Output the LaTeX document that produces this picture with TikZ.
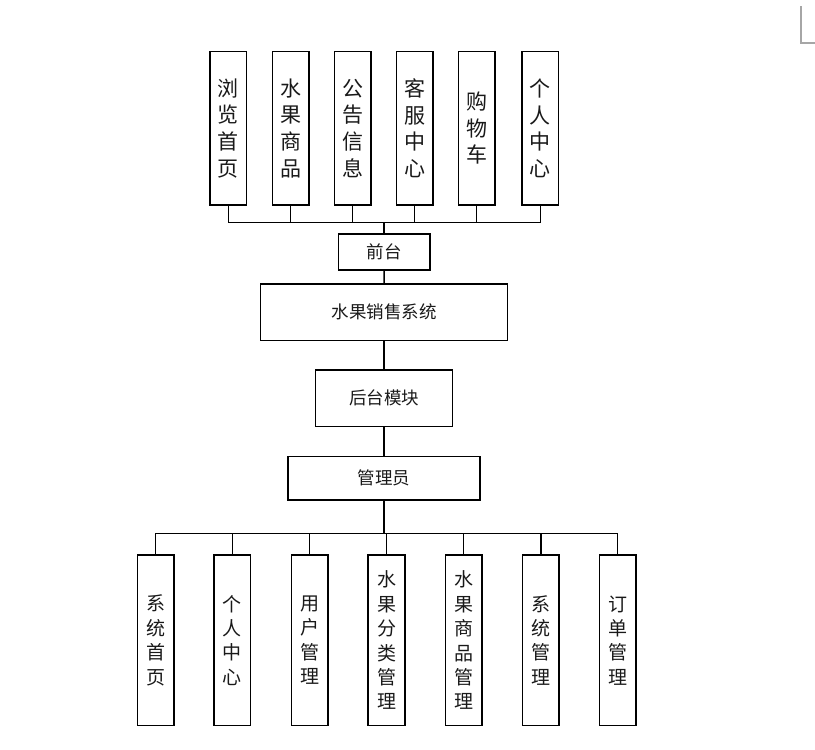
\documentclass[tikz,border=0pt]{standalone}
\usepackage{fontspec}
\newfontfamily\cjk{Noto Sans CJK SC}
\begin{document}
\begin{tikzpicture}[x=1pt,y=-1pt,
  box/.style={draw=black,line width=1.5pt,rectangle,inner sep=0pt,text=black!90},
  topbox/.style={box,minimum width=36.7pt,minimum height=153.3pt,align=center,
    font=\cjk\fontsize{21}{26.7}\selectfont},
  botbox/.style={box,minimum width=36.7pt,minimum height=170.7pt,align=center,
    font=\cjk\fontsize{19}{24.4}\selectfont},
  midbox/.style={box,font=\cjk\fontsize{17.5}{20}\selectfont},
  conn/.style={line width=1.5pt,draw=black}]
\useasboundingbox (0,0) rectangle (815,750);
% top row
\node[topbox] (t1) at (228.3,128.3) {浏\\览\\首\\页};
\node[topbox] (t2) at (290.7,128.3) {水\\果\\商\\品};
\node[topbox] (t3) at (352.7,128.3) {公\\告\\信\\息};
\node[topbox] (t4) at (414.7,128.3) {客\\服\\中\\心};
\node[topbox] (t5) at (476.7,128.3) {购\\物\\车};
\node[topbox] (t6) at (540.3,128.3) {个\\人\\中\\心};
\coordinate (tb) at (384.2,222.7);
% middle
\node[midbox,minimum width=91.7pt,minimum height=36pt] (qt) at (384.2,252) {前台};
\node[midbox,minimum width=246.6pt,minimum height=56.7pt] (sys) at (384,312.3) {水果销售系统};
\node[midbox,minimum width=136.6pt,minimum height=56.7pt] (ht) at (384,398.3) {后台模块};
\node[midbox,minimum width=192.3pt,minimum height=43.3pt] (gly) at (384,478.3) {管理员};
\coordinate (bb) at (384,533.3);
% bottom row
\node[botbox] (b1) at (155.7,640.3) {系\\统\\首\\页};
\node[botbox] (b2) at (232.3,640.3) {个\\人\\中\\心};
\node[botbox] (b3) at (309.7,640.3) {用\\户\\管\\理};
\node[botbox] (b4) at (386.5,640.3) {水\\果\\分\\类\\管\\理};
\node[botbox] (b5) at (463.7,640.3) {水\\果\\商\\品\\管\\理};
\node[botbox] (b6) at (540.8,640.3) {系\\统\\管\\理};
\node[botbox] (b7) at (617.7,640.3) {订\\单\\管\\理};
% connectors
\foreach \i in {1,...,6} \draw[conn] (t\i.south) |- (tb);
\draw[conn] (tb) -- (qt.north);
\draw[conn] (qt.south) -- (sys.north);
\draw[conn] (sys.south) -- (ht.north);
\draw[conn] (ht.south) -- (gly.north);
\draw[conn] (gly.south) -- (bb);
\foreach \i in {1,...,7} \draw[conn] (bb) -| (b\i.north);
% page corner mark
\draw[gray!70,line width=1.2pt] (801,6) -- (801,43) -- (815,43);
\end{tikzpicture}
\end{document}
